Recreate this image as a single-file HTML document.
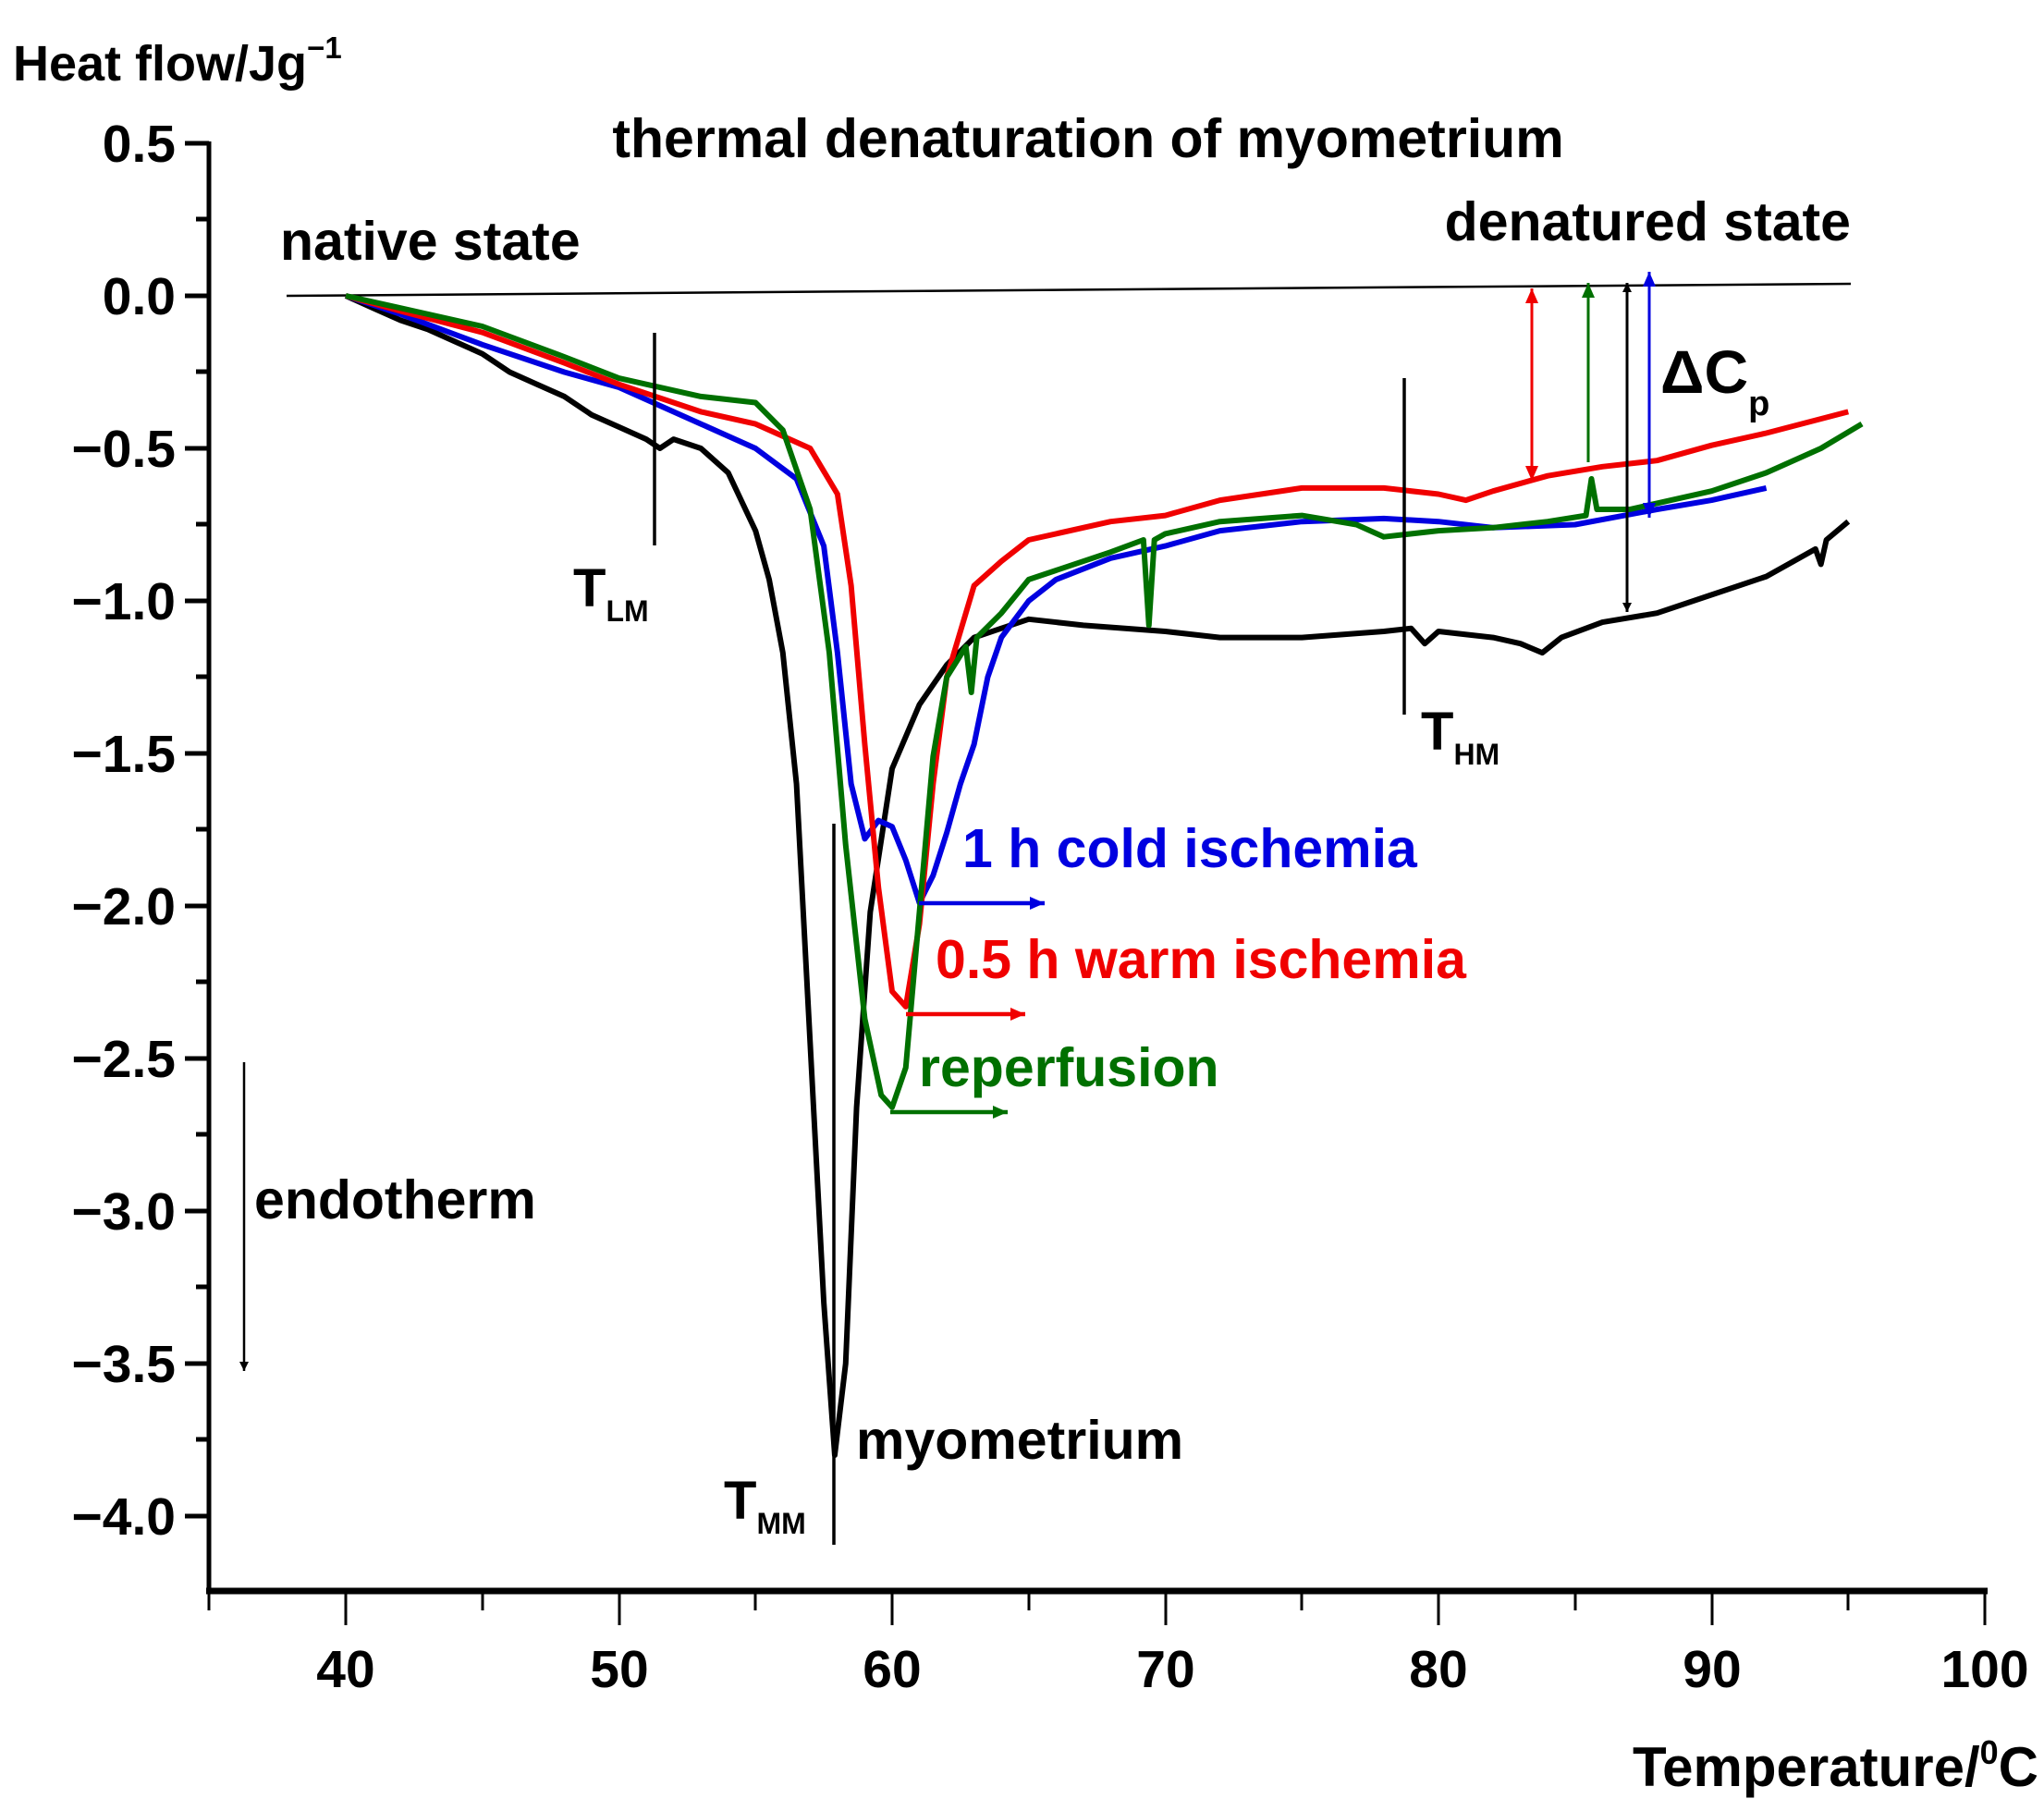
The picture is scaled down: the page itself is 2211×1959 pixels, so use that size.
<!DOCTYPE html>
<html><head><meta charset="utf-8"><style>
body{margin:0;background:#fff}
svg{display:block}
text{font-family:"Liberation Sans",Arial,sans-serif}
</style></head><body>
<svg width="2211" height="1959" viewBox="0 0 2211 1959" xmlns="http://www.w3.org/2000/svg">
<defs>
<marker id="ak" markerWidth="10" markerHeight="12" refX="10" refY="5" orient="auto-start-reverse" markerUnits="userSpaceOnUse" viewBox="0 0 10 10"><path d="M0,0 L10,5 L0,10 z" fill="#000"/></marker>
<marker id="ar" markerWidth="16" markerHeight="16" refX="16" refY="7" orient="auto-start-reverse" markerUnits="userSpaceOnUse" viewBox="0 0 16 14"><path d="M0,0 L16,7 L0,14 z" fill="#f00000"/></marker>
<marker id="ag" markerWidth="16" markerHeight="16" refX="16" refY="7" orient="auto-start-reverse" markerUnits="userSpaceOnUse" viewBox="0 0 16 14"><path d="M0,0 L16,7 L0,14 z" fill="#007000"/></marker>
<marker id="ab" markerWidth="16" markerHeight="16" refX="16" refY="7" orient="auto-start-reverse" markerUnits="userSpaceOnUse" viewBox="0 0 16 14"><path d="M0,0 L16,7 L0,14 z" fill="#0000e0"/></marker>
</defs>
<rect width="2211" height="1959" fill="#fff"/>
<line x1="226" y1="153" x2="226" y2="1724" stroke="#000" stroke-width="5"/>
<line x1="223" y1="1721" x2="2150" y2="1721" stroke="#000" stroke-width="7"/>
<g stroke="#000" stroke-width="5">
<line x1="200" y1="155" x2="226" y2="155"/><line x1="200" y1="320" x2="226" y2="320"/><line x1="200" y1="485" x2="226" y2="485"/><line x1="200" y1="650" x2="226" y2="650"/><line x1="200" y1="815" x2="226" y2="815"/><line x1="200" y1="980" x2="226" y2="980"/><line x1="200" y1="1145" x2="226" y2="1145"/><line x1="200" y1="1310" x2="226" y2="1310"/><line x1="200" y1="1475" x2="226" y2="1475"/><line x1="200" y1="1640" x2="226" y2="1640"/>
<line x1="212" y1="237" x2="226" y2="237"/><line x1="212" y1="402" x2="226" y2="402"/><line x1="212" y1="567" x2="226" y2="567"/><line x1="212" y1="732" x2="226" y2="732"/><line x1="212" y1="897" x2="226" y2="897"/><line x1="212" y1="1062" x2="226" y2="1062"/><line x1="212" y1="1227" x2="226" y2="1227"/><line x1="212" y1="1392" x2="226" y2="1392"/><line x1="212" y1="1557" x2="226" y2="1557"/>
</g>
<g stroke="#000" stroke-width="3">
<line x1="374" y1="1721" x2="374" y2="1758"/><line x1="670" y1="1721" x2="670" y2="1758"/><line x1="965" y1="1721" x2="965" y2="1758"/><line x1="1261" y1="1721" x2="1261" y2="1758"/><line x1="1556" y1="1721" x2="1556" y2="1758"/><line x1="1852" y1="1721" x2="1852" y2="1758"/><line x1="2147" y1="1721" x2="2147" y2="1758"/>
<line x1="226" y1="1721" x2="226" y2="1742"/><line x1="522" y1="1721" x2="522" y2="1742"/><line x1="817" y1="1721" x2="817" y2="1742"/><line x1="1113" y1="1721" x2="1113" y2="1742"/><line x1="1408" y1="1721" x2="1408" y2="1742"/><line x1="1704" y1="1721" x2="1704" y2="1742"/><line x1="1999" y1="1721" x2="1999" y2="1742"/>
</g>
<g font-size="57" font-weight="bold" text-anchor="end" fill="#000">
<text x="190" y="175">0.5</text><text x="190" y="340">0.0</text><text x="190" y="505">−0.5</text><text x="190" y="670">−1.0</text><text x="190" y="835">−1.5</text><text x="190" y="1000">−2.0</text><text x="190" y="1165">−2.5</text><text x="190" y="1330">−3.0</text><text x="190" y="1495">−3.5</text><text x="190" y="1660">−4.0</text>
</g>
<g font-size="57" font-weight="bold" text-anchor="middle" fill="#000">
<text x="374" y="1825">40</text><text x="670" y="1825">50</text><text x="965" y="1825">60</text><text x="1261" y="1825">70</text><text x="1556" y="1825">80</text><text x="1852" y="1825">90</text><text x="2147" y="1825">100</text>
</g>
<text x="14" y="87" font-size="54" font-weight="bold">Heat flow/Jg<tspan dy="-24" font-size="33">−1</tspan></text>
<text x="2205" y="1932" font-size="60" font-weight="bold" text-anchor="end">Temperature/<tspan dy="-24" font-size="36">0</tspan><tspan dy="24">C</tspan></text>
<text x="1177" y="170" font-size="59" font-weight="bold" text-anchor="middle">thermal denaturation of myometrium</text>
<text x="303" y="281" font-size="59" font-weight="bold">native state</text>
<text x="2002" y="260" font-size="59" font-weight="bold" text-anchor="end">denatured state</text>
<line x1="310" y1="320" x2="2002" y2="307" stroke="#000" stroke-width="2.5"/>
<g transform="translate(374,320) scale(29.55,-330) translate(-40,0)" fill="none" stroke-width="6" stroke-linejoin="round">
<polyline vector-effect="non-scaling-stroke" stroke="#000" points="40,0 41,-0.04 42,-0.08 43,-0.11 44,-0.15 45,-0.19 46,-0.25 47,-0.29 48,-0.33 49,-0.39 50,-0.43 51,-0.47 51.5,-0.5 52,-0.47 53,-0.5 54,-0.58 55,-0.77 55.5,-0.93 56,-1.17 56.5,-1.6 57,-2.45 57.5,-3.3 57.9,-3.8 58.3,-3.5 58.7,-2.66 59.2,-2.02 60,-1.55 61,-1.34 62,-1.21 63,-1.12 64,-1.09 65,-1.06 67,-1.08 70,-1.1 72,-1.12 75,-1.12 78,-1.1 79,-1.09 79.5,-1.14 80,-1.1 82,-1.12 83,-1.14 83.8,-1.17 84.5,-1.12 86,-1.07 88,-1.04 90,-0.98 92,-0.92 93,-0.87 93.8,-0.83 94,-0.88 94.2,-0.8 95,-0.74"/>
<polyline vector-effect="non-scaling-stroke" stroke="#0000e0" points="40,0 42,-0.06 45,-0.16 48,-0.25 50,-0.3 53,-0.42 55,-0.5 56.5,-0.6 57.5,-0.82 58,-1.17 58.5,-1.6 59,-1.78 59.5,-1.72 60,-1.74 60.5,-1.85 61,-1.99 61.5,-1.9 62,-1.76 62.5,-1.6 63,-1.47 63.5,-1.25 64,-1.12 65,-1.0 66,-0.93 68,-0.86 70,-0.82 72,-0.77 75,-0.74 78,-0.73 80,-0.74 82,-0.76 85,-0.75 88,-0.7 90,-0.67 92,-0.63"/>
<polyline vector-effect="non-scaling-stroke" stroke="#f00000" points="40,0 42,-0.05 45,-0.12 48,-0.22 50,-0.29 53,-0.38 55,-0.42 57,-0.5 58,-0.65 58.5,-0.95 59,-1.47 59.5,-1.94 60,-2.28 60.5,-2.33 61,-2.06 61.5,-1.6 62,-1.25 63,-0.95 64,-0.87 65,-0.8 68,-0.74 70,-0.72 72,-0.67 75,-0.63 78,-0.63 80,-0.65 81,-0.67 82,-0.64 84,-0.59 86,-0.56 88,-0.54 90,-0.49 92,-0.45 95,-0.38"/>
<polyline vector-effect="non-scaling-stroke" stroke="#007000" points="40,0 42,-0.04 45,-0.1 48,-0.2 50,-0.27 53,-0.33 55,-0.35 56,-0.44 57,-0.7 57.7,-1.17 58.3,-1.8 59,-2.37 59.6,-2.62 60,-2.66 60.5,-2.53 61,-2.02 61.5,-1.51 62,-1.25 62.7,-1.15 62.9,-1.3 63.1,-1.12 64,-1.04 65,-0.93 68,-0.84 69.2,-0.8 69.4,-1.08 69.6,-0.8 70,-0.78 72,-0.74 75,-0.72 77,-0.75 78,-0.79 80,-0.77 82,-0.76 84,-0.74 85.4,-0.72 85.6,-0.6 85.8,-0.7 87,-0.7 88,-0.68 90,-0.64 92,-0.58 94,-0.5 95.5,-0.42"/>
</g>
<g stroke="#000" stroke-width="3.5">
<line x1="708" y1="360" x2="708" y2="590"/>
<line x1="1519" y1="409" x2="1519" y2="773"/>
<line x1="902" y1="891" x2="902" y2="1671"/>
</g>
<line x1="264" y1="1149" x2="264" y2="1483" stroke="#000" stroke-width="2.5" marker-end="url(#ak)"/>
<g stroke-width="3">
<line x1="1657" y1="312" x2="1657" y2="520" stroke="#f00000" marker-start="url(#ar)" marker-end="url(#ar)"/>
<line x1="1718" y1="306" x2="1718" y2="500" stroke="#007000" marker-start="url(#ag)"/>
<line x1="1760" y1="306" x2="1760" y2="662" stroke="#000" marker-start="url(#ak)" marker-end="url(#ak)"/>
<line x1="1784" y1="294" x2="1784" y2="560" stroke="#0000e0" marker-start="url(#ab)" marker-end="url(#ab)"/>
</g>
<line x1="994" y1="977" x2="1130" y2="977" stroke="#0000e0" stroke-width="4.5" marker-end="url(#ab)"/>
<line x1="980" y1="1097" x2="1109" y2="1097" stroke="#f00000" stroke-width="4.5" marker-end="url(#ar)"/>
<line x1="963" y1="1203" x2="1090" y2="1203" stroke="#007000" stroke-width="4.5" marker-end="url(#ag)"/>
<text x="1041" y="938" font-size="59" font-weight="bold" fill="#0000e0">1 h cold ischemia</text>
<text x="1012" y="1058" font-size="59" font-weight="bold" fill="#f00000">0.5 h warm ischemia</text>
<text x="994" y="1175" font-size="59" font-weight="bold" fill="#007000">reperfusion</text>
<text x="275" y="1318" font-size="59" font-weight="bold">endotherm</text>
<text x="926" y="1578" font-size="59" font-weight="bold">myometrium</text>
<text x="620" y="656" font-size="58" font-weight="bold">T<tspan font-size="32" dy="16">LM</tspan></text>
<text x="1537" y="811" font-size="58" font-weight="bold">T<tspan font-size="32" dy="16">HM</tspan></text>
<text x="783" y="1643" font-size="58" font-weight="bold">T<tspan font-size="32" dy="16">MM</tspan></text>
<text x="1796" y="425" font-size="66" font-weight="bold">ΔC<tspan font-size="38" dy="24">p</tspan></text>
</svg>
</body></html>
